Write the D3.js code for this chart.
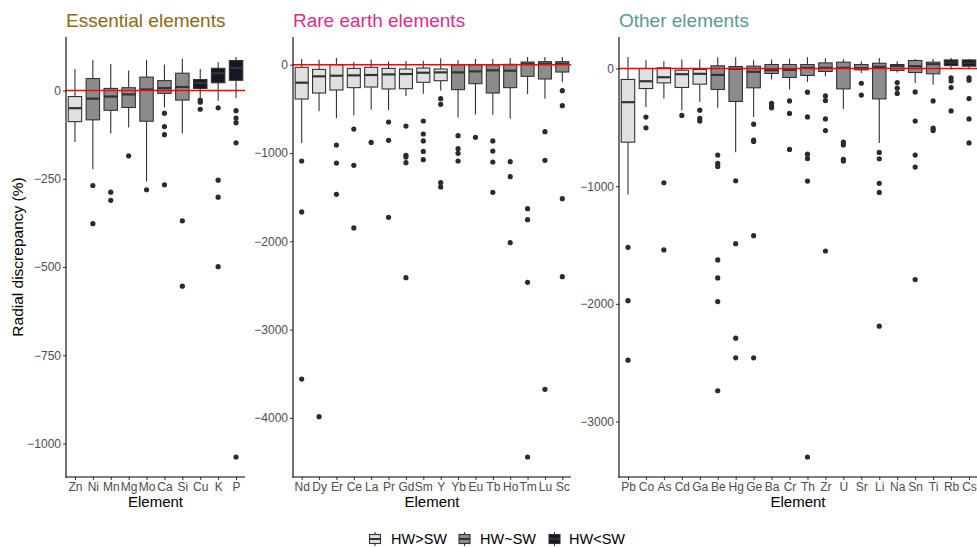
<!DOCTYPE html>
<html><head><meta charset="utf-8">
<script src="https://cdn.jsdelivr.net/npm/d3@7"></script>
<style>
html,body{margin:0;padding:0;background:#fff;}
svg{display:block;font-family:"Liberation Sans",Arial,Helvetica,sans-serif;}
</style></head>
<body>
<svg id="chart" width="977" height="547"></svg>
<script>
// ---------------- DATA ----------------
const groupNames = ["HW>SW", "HW~SW", "HW<SW"];
const panelTitles = ["Essential elements", "Rare earth elements", "Other elements"];

const essentialElements = ["Zn","Ni","Mn","Mg","Mo","Ca","Si","Cu","K","P"];
const essentialGroup    = ["HW>SW","HW~SW","HW~SW","HW~SW","HW~SW","HW~SW","HW~SW","HW<SW","HW<SW","HW<SW"];
const essentialLower    = [-146,-223,-122,-105,-258,-47,-122,-19,-29,-22];
const essentialQ1       = [-88,-83,-56,-48,-87,-8,-27,6,22,29];
const essentialMedian   = [-50,-23,-17,-11,3,7,10,21,49,64];
const essentialQ3       = [-17,34,6,8,38,28,49,31,63,85];
const essentialUpper    = [61,87,75,57,87,74,90,61,80,95];
const essentialOutliers = [[],[-269,-377],[-288,-311],[-185],[-281],[-64,-102,-125,-267],[-369,-554],[-27,-33,-53],[-49,-254,-302,-499],[-57,-78,-91,-148,-1038]];
const essentialTicks    = [-1000,-750,-500,-250,0];

const rareElements = ["Nd","Dy","Er","Ce","La","Pr","Gd","Sm","Y","Yb","Eu","Tb","Ho","Tm","Lu","Sc"];
const rareGroup    = ["HW>SW","HW>SW","HW>SW","HW>SW","HW>SW","HW>SW","HW>SW","HW>SW","HW>SW","HW~SW","HW~SW","HW~SW","HW~SW","HW~SW","HW~SW","HW~SW"];
const rareLower    = [-887,-528,-608,-574,-510,-513,-355,-328,-291,-597,-563,-566,-611,-332,-385,-200];
const rareQ1       = [-389,-321,-287,-260,-253,-275,-272,-200,-181,-283,-215,-321,-260,-132,-162,-83];
const rareMedian   = [-204,-132,-125,-121,-117,-110,-106,-91,-87,-87,-76,-64,-68,8,11,11];
const rareQ3       = [-30,-53,0,-42,-30,-42,-49,-38,-49,0,0,0,4,30,34,34];
const rareUpper    = [64,57,75,30,60,38,42,45,72,53,64,64,75,87,87,87];
const rareOutliers = [[-1091,-1668,-3560],[-3986],[-910,-1114,-1468],[-729,-1140,-1849],[-880],[-649,-857,-1729],[-695,-1027,-1046,-1110,-2412],[-638,-785,-864,-982,-1076],[-385,-449,-1336,-1385],[-804,-951,-1004,-1091],[-823],[-864,-978,-1102,-1446],[-1098,-1268,-2016],[-1631,-1755,-2465,-4443],[-759,-1083,-3677],[-294,-464,-1517,-2401]];
const rareTicks    = [-4000,-3000,-2000,-1000,0];

const otherElements = ["Pb","Co","As","Cd","Ga","Be","Hg","Ge","Ba","Cr","Th","Zr","U","Sr","Li","Na","Sn","Ti","Rb","Cs"];
const otherGroup    = ["HW>SW","HW>SW","HW>SW","HW>SW","HW>SW","HW~SW","HW~SW","HW~SW","HW~SW","HW~SW","HW~SW","HW~SW","HW~SW","HW~SW","HW~SW","HW~SW","HW~SW","HW~SW","HW<SW","HW<SW"];
const otherLower    = [-1070,-326,-255,-357,-283,-334,-711,-411,-93,-178,-114,-65,-343,-37,-632,-34,-122,-136,-8,-8];
const otherQ1       = [-626,-170,-122,-161,-133,-178,-280,-164,-42,-76,-59,-25,-173,-11,-258,-17,-34,-45,25,20];
const otherMedian   = [-286,-108,-74,-48,-45,-54,-3,-28,-14,-11,6,6,6,3,14,23,20,37,51,48];
const otherQ3       = [-93,0,6,-14,-8,23,17,20,34,34,34,48,54,34,45,34,68,54,73,73];
const otherUpper    = [98,71,62,76,76,96,96,71,76,85,96,88,82,62,90,62,82,82,90,82];
const otherOutliers = [[-1520,-1973,-2479],[-413,-504],[-971,-1542],[-399],[-354,-424,-447],[-736,-806,-832,-1627,-1780,-1981,-2739],[-954,-1489,-2292,-2459],[-473,-609,-620,-1421,-2459],[-295,-317,-334],[-275,-382,-688],[-201,-411,-728,-764,-957,-3302],[-233,-272,-428,-527,-1551],[-626,-649,-773,-787],[-125,-226],[-713,-767,-976,-1053,-2190],[-119,-167,-212],[-199,-447,-736,-838,-1794],[-275,-507,-527],[-79,-105,-162,-360],[-79,-99,-255,-428,-632]];
const otherTicks    = [-3000,-2000,-1000,0];

// ---------------- STYLE / LAYOUT ----------------
const fillColor = d3.scaleOrdinal().domain(groupNames).range(["#e0e0e0","#8c8c8c","#141824"]);
const titleColors = ["#8b6914","#dc2d8b","#5b9898"];
const lineCol = "#333333";
const plotTop = 37, plotBottom = 477;
const panelX = [[66,245],[293,571],[619,978]];

function build(el, gr, lo, q1, me, q3, up, out) {
  return el.map((e,i)=>({el:e, group:gr[i], lower:lo[i], q1:q1[i], median:me[i], q3:q3[i], upper:up[i], out:out[i]}));
}
const panels = [
  {title: panelTitles[0], rows: build(essentialElements,essentialGroup,essentialLower,essentialQ1,essentialMedian,essentialQ3,essentialUpper,essentialOutliers), ticks: essentialTicks, cats: essentialElements},
  {title: panelTitles[1], rows: build(rareElements,rareGroup,rareLower,rareQ1,rareMedian,rareQ3,rareUpper,rareOutliers), ticks: rareTicks, cats: rareElements},
  {title: panelTitles[2], rows: build(otherElements,otherGroup,otherLower,otherQ1,otherMedian,otherQ3,otherUpper,otherOutliers), ticks: otherTicks, cats: otherElements}
];

const svg = d3.select("#chart");
const fmt = d => d < 0 ? "\u2212" + Math.abs(d) : String(d);

panels.forEach((p, pi) => {
  const [x0, x1] = panelX[pi];
  const x = d3.scalePoint().domain(p.cats).range([x0, x1]).padding(0.5);
  const step = x.step();
  const bw = step * 0.75;
  const allMin = d3.min(p.rows, r => Math.min(r.lower, ...(r.out.length ? r.out : [r.lower])));
  const allMax = d3.max(p.rows, r => r.upper);
  const pad = (allMax - allMin) * 0.05;
  const y = d3.scaleLinear().domain([allMin - pad, allMax + pad]).range([plotBottom, plotTop]);

  const g = svg.append("g");

  // boxes
  const bx = g.selectAll("g.box").data(p.rows).join("g").attr("class","box");
  bx.append("line")
    .attr("x1", d => x(d.el)).attr("x2", d => x(d.el))
    .attr("y1", d => y(d.upper)).attr("y2", d => y(d.q3))
    .attr("stroke", lineCol).attr("stroke-width", 1.1);
  bx.append("line")
    .attr("x1", d => x(d.el)).attr("x2", d => x(d.el))
    .attr("y1", d => y(d.q1)).attr("y2", d => y(d.lower))
    .attr("stroke", lineCol).attr("stroke-width", 1.1);
  bx.append("rect")
    .attr("x", d => x(d.el) - bw/2).attr("width", bw)
    .attr("y", d => y(d.q3)).attr("height", d => Math.max(0.5, y(d.q1) - y(d.q3)))
    .attr("fill", d => fillColor(d.group)).attr("stroke", lineCol).attr("stroke-width", 1.1);
  bx.append("line")
    .attr("x1", d => x(d.el) - bw/2).attr("x2", d => x(d.el) + bw/2)
    .attr("y1", d => y(d.median)).attr("y2", d => y(d.median))
    .attr("stroke", lineCol).attr("stroke-width", 2.2);
  bx.selectAll("circle").data(d => d.out.map(v => ({el:d.el, v}))).join("circle")
    .attr("cx", d => x(d.el)).attr("cy", d => y(d.v)).attr("r", 2.6)
    .attr("fill", "#2b2b2b");

  // red zero line
  g.append("line")
    .attr("x1", x0).attr("x2", x1).attr("y1", y(0)).attr("y2", y(0))
    .attr("stroke", "#ff0000").attr("stroke-width", 1.6);

  // axes
  const ya = g.append("g").attr("transform", `translate(${x0},0)`)
    .call(d3.axisLeft(y).tickValues(p.ticks).tickFormat(fmt).tickSize(3).tickPadding(2));
  ya.select(".domain").remove();
  ya.selectAll(".tick line").attr("stroke", lineCol).attr("stroke-width", 1);
  ya.selectAll("text").attr("fill", "#4d4d4d").style("font-size", "12px")
    .style("font-family", "'Liberation Sans',Arial,sans-serif");
  g.append("line").attr("x1", x0).attr("x2", x0).attr("y1", plotTop).attr("y2", plotBottom + 0.5)
    .attr("stroke", "#000").attr("stroke-width", 1.1);

  const xa = g.append("g").attr("transform", `translate(0,${plotBottom})`)
    .call(d3.axisBottom(x).tickSize(3).tickPadding(2));
  xa.select(".domain").remove();
  xa.selectAll(".tick line").attr("stroke", lineCol).attr("stroke-width", 1);
  xa.selectAll("text").attr("fill", "#4d4d4d").style("font-size", "12px")
    .style("font-family", "'Liberation Sans',Arial,sans-serif");
  g.append("line").attr("x1", x0 - 0.5).attr("x2", x1).attr("y1", plotBottom).attr("y2", plotBottom)
    .attr("stroke", "#000").attr("stroke-width", 1.1);

  // axis title
  g.append("text").attr("x", (x0 + Math.min(x1, 977)) / 2).attr("y", 507)
    .attr("text-anchor", "middle").style("font-size", "15px").attr("fill", "#000").text("Element");

  // panel title
  g.append("text").attr("x", x0).attr("y", 27).style("font-size", "19px")
    .attr("fill", titleColors[pi]).text(p.title);
});

// y-axis title
svg.append("text").attr("transform", "translate(23,257) rotate(-90)")
  .attr("text-anchor", "middle").style("font-size", "15.5px").attr("fill", "#000")
  .text("Radial discrepancy (%)");

// legend
const legendKeyX = [375, 464.5, 554.5];
const legendTextX = [391, 480, 569];
const ly = 539;
const lg = svg.append("g");
groupNames.forEach((gname, i) => {
  const cx = legendKeyX[i];
  lg.append("line").attr("x1", cx).attr("x2", cx).attr("y1", ly - 7).attr("y2", ly + 7)
    .attr("stroke", lineCol).attr("stroke-width", 1.1);
  lg.append("rect").attr("x", cx - 5.5).attr("y", ly - 4.5).attr("width", 11).attr("height", 9)
    .attr("fill", fillColor(gname)).attr("stroke", lineCol).attr("stroke-width", 1.1);
  lg.append("line").attr("x1", cx - 5.5).attr("x2", cx + 5.5).attr("y1", ly).attr("y2", ly)
    .attr("stroke", lineCol).attr("stroke-width", 2);
  lg.append("text").attr("x", legendTextX[i]).attr("y", ly).attr("dy", "0.35em")
    .style("font-size", "14.5px").attr("fill", "#000").text(gname);
});
</script>
</body></html>
